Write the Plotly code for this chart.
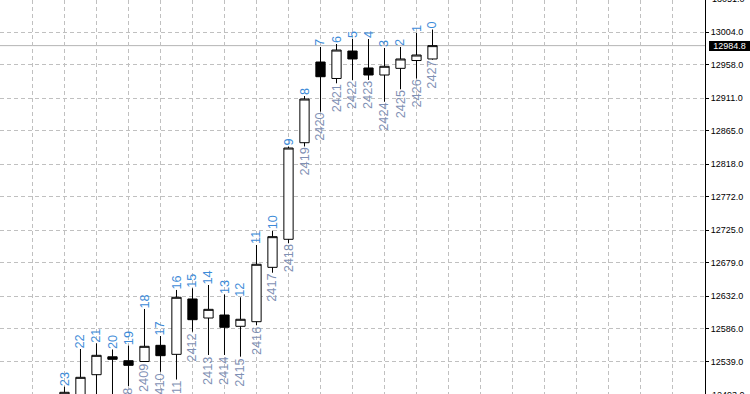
import plotly.graph_objects as go

# ---- data -------------------------------------------------------------
bars = [2404, 2405, 2406, 2407, 2408, 2409, 2410, 2411, 2412, 2413, 2414, 2415,
        2416, 2417, 2418, 2419, 2420, 2421, 2422, 2423, 2424, 2425, 2426, 2427]
opens = [12478.0, 12490.0, 12521.1, 12546.3, 12540.8, 12539.7, 12562.5, 12549.8,
         12627.8, 12601.0, 12605.2, 12589.3, 12595.8, 12672.4, 12711.9, 12848.0,
         12961.7, 12938.5, 12977.2, 12953.3, 12943.4, 12952.8, 12963.8, 12966.0]
highs = [12504.2, 12557.3, 12565.3, 12556.6, 12562.0, 12613.7, 12575.6, 12640.5,
         12642.8, 12647.5, 12634.1, 12630.2, 12703.9, 12724.0, 12842.7, 12913.8,
         12982.9, 12987.1, 12994.1, 12994.1, 12981.5, 12982.9, 13002.6, 13007.5]
lows = [12470.0, 12482.0, 12488.0, 12486.0, 12505.2, 12539.0, 12525.3, 12514.3,
        12581.7, 12548.9, 12548.9, 12546.5, 12591.1, 12664.8, 12706.3, 12842.7,
        12891.7, 12931.7, 12936.4, 12936.4, 12905.8, 12923.3, 12938.5, 12965.0]
closes = [12496.3, 12517.4, 12548.4, 12542.8, 12534.3, 12561.1, 12547.9, 12630.2,
          12598.6, 12613.2, 12587.9, 12599.2, 12676.7, 12715.6, 12840.5, 12909.6,
          12941.0, 12978.6, 12966.0, 12943.4, 12955.7, 12966.0, 12971.6, 12984.8]
shift_labels = ["23", "22", "21", "20", "19", "18", "17", "16", "15", "14", "13", "12",
                "11", "10", "9", "8", "7", "6", "5", "4", "3", "2", "1", "0"]
bar_labels = ["2404", "2405", "2406", "2407", "2408", "2409", "2410", "2411",
              "2412", "2413", "2414", "2415", "2416", "2417", "2418", "2419",
              "2420", "2421", "2422", "2423", "2424", "2425", "2426", "2427"]
price_ticks = [12539.0, 12586.0, 12632.0, 12679.0, 12725.0, 12772.0,
               12818.0, 12865.0, 12911.0, 12958.0, 13004.0]
edge_ticks = [13051.0, 12493.0]
bid_price = 12984.8

# ---- view -------------------------------------------------------------
Y_RANGE = [12493.9, 13049.1]
X_RANGE = [2399.97, 2444.03]
GRID = "#c0c0c0"
TOP_COLOR = "#3d8bd8"
BOTTOM_COLOR = "#7f90b4"
LABEL_FONT = "Liberation Sans, Arial, sans-serif"

fig = go.Figure()
fig.add_trace(go.Candlestick(
    x=bars, open=opens, high=highs, low=lows, close=closes,
    increasing=dict(line=dict(color="black", width=1), fillcolor="white"),
    decreasing=dict(line=dict(color="black", width=1), fillcolor="black"),
    whiskerwidth=0, showlegend=False, hoverinfo="skip",
))

annotations = []
for b, lab, h in zip(bars, shift_labels, highs):
    annotations.append(dict(
        x=b, y=h, xref="x", yref="y", text=lab, showarrow=False,
        textangle=-90, xanchor="center", yanchor="bottom", yshift=1,
        borderpad=0, borderwidth=0,
        font=dict(family=LABEL_FONT, size=12.7, color=TOP_COLOR)))
for b, lab, l in zip(bars, bar_labels, lows):
    annotations.append(dict(
        x=b, y=l, xref="x", yref="y", text=lab, showarrow=False,
        textangle=-90, xanchor="center", yanchor="top", yshift=-1.5,
        borderpad=0, borderwidth=0,
        font=dict(family=LABEL_FONT, size=12.7, color=BOTTOM_COLOR)))

# price tag for the bid
annotations.append(dict(
    x=1, xref="paper", y=bid_price, yref="y", text=f"{bid_price:.1f}",
    showarrow=False, xanchor="left", yanchor="middle", xshift=4,
    bgcolor="black", borderpad=0, borderwidth=0, width=41, align="center",
    font=dict(family=LABEL_FONT, size=9, color="white")))

# tick labels that are only partly inside the window
for v in edge_ticks:
    annotations.append(dict(
        x=1, xref="paper", y=(v - Y_RANGE[0]) / (Y_RANGE[1] - Y_RANGE[0]),
        yref="paper", text=f"{v:.1f}", showarrow=False, xanchor="left",
        yanchor="middle", xshift=7, borderpad=0, borderwidth=0,
        font=dict(family=LABEL_FONT, size=9, color="black")))

fig.update_layout(
    width=750, height=394,
    margin=dict(l=0, r=45, t=0, b=0, pad=0),
    paper_bgcolor="white", plot_bgcolor="white",
    boxgap=0.42, boxgroupgap=0,
    showlegend=False, hovermode=False,
    annotations=annotations,
    shapes=[dict(type="line", xref="paper", x0=0, x1=1, yref="y",
                 y0=bid_price, y1=bid_price, layer="below",
                 line=dict(color="#b4b4b4", width=1))],
    xaxis=dict(range=X_RANGE, tickmode="linear", tick0=2400, dtick=2,
               showgrid=True, gridcolor=GRID, griddash="4px,3px", gridwidth=1,
               showticklabels=False, ticks="", zeroline=False, showline=False,
               rangeslider=dict(visible=False), fixedrange=True),
    yaxis=dict(range=Y_RANGE, side="right", tickmode="array",
               tickvals=price_ticks, ticktext=[f"{v:.1f}" for v in price_ticks],
               ticks="outside", ticklen=3, tickcolor="black", tickwidth=1,
               showline=True, linecolor="black", linewidth=1,
               showgrid=True, gridcolor=GRID, griddash="4px,3px", gridwidth=1,
               zeroline=False, fixedrange=True,
               tickfont=dict(family=LABEL_FONT, size=9, color="black")),
)

fig.write_html("out.html")
